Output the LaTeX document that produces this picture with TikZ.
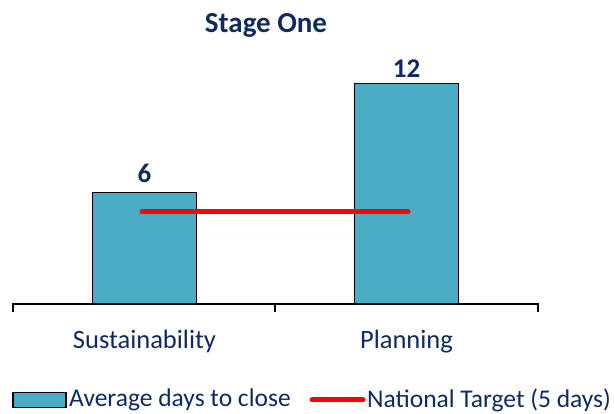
\documentclass[tikz,border=0pt]{standalone}
\usepackage{fontspec}
\setmainfont{Carlito}
\usetikzlibrary{positioning}
\definecolor{barfill}{HTML}{4BACC6}
\definecolor{navy}{HTML}{102A5E}
\tikzset{
  bar/.style={draw=black, line width=1.3pt, fill=barfill, minimum width=104pt, inner sep=0pt, anchor=south},
  val/.style={font=\bfseries\fontsize{27}{30}\selectfont, text=navy, inner sep=0pt},
  cat/.style={font=\fontsize{26.5}{30}\selectfont, text=navy, inner sep=0pt, anchor=base},
  keytext/.style={font=\fontsize{25.5}{30}\selectfont, text=navy, inner sep=0pt, anchor=west},
  target/.style={red, line width=5pt, line cap=round}
}

\begin{document}
\begin{tikzpicture}[x=1pt, y=-1pt]
\useasboundingbox (0,0) rectangle (614,414);
% title
\node[font=\bfseries\fontsize{29}{32}\selectfont, text=navy, inner sep=0pt, anchor=base] (title) at (266,33) {Stage One};
% bars
\node[bar, minimum height=111pt] (sus) at (144.5,304) {};
\node[bar, minimum height=220pt] (plan) at (406.5,304) {};
\node[val, above=9pt of sus] (v1) {6};
\node[val, above=5pt of plan] (v2) {12};
% axis
\coordinate (a0) at (13,304);
\coordinate (a1) at (275,304);
\coordinate (a2) at (538,304);
\draw[line width=1.3pt] ([yshift=-8pt]a0) -- (a0) -- (a2) -- ([yshift=-8pt]a2);
\draw[line width=1.3pt] (a1) -- ([yshift=-8pt]a1);
% target line
\coordinate (t1) at (142,212);
\coordinate (t2) at (408,212);
\draw[target] (t1) -- (t2);
% categories
\node[cat] (c1) at (144.5,349) {Sustainability};
\node[cat] (c2) at (406.5,349) {Planning};
% legend
\node[draw=black, line width=1.3pt, fill=barfill, minimum width=53pt, minimum height=15pt, inner sep=0pt] (key1) at (39.5,400) {};
\node[keytext] (k1) at (69,400) {Average days to close};
\coordinate (l1) at (312,400);
\coordinate (l2) at (363,400);
\draw[target] (l1) -- (l2);
\node[keytext] (k2) at (367,400) {National Target (5 days)};
\end{tikzpicture}
\end{document}
